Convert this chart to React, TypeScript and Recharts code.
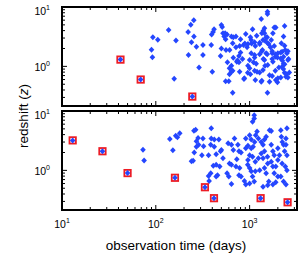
import { ReferenceArea, Scatter, ScatterChart, XAxis, YAxis } from "recharts";

// observation time (days), redshift z
const topPoints: [number, number][] = [
  [93, 3.1], [105, 2.8], [90, 1.9], [92, 1.43], [137, 4.1], [164, 2.74], [157, 0.62],
  [254, 6.0], [236, 5.0], [221, 3.8], [255, 3.2], [240, 2.55], [271, 2.14], [223, 1.55], [289, 0.96],
  [318, 2.3], [318, 1.55], [394, 3.45], [408, 3.8], [418, 4.2], [390, 2.29], [400, 0.81],
  [500, 4.97], [510, 4.6], [520, 3.6], [535, 3.2], [548, 3.6], [555, 2.85], [490, 1.5], [500, 2.0],
  [575, 3.45], [640, 3.2], [670, 3.1], [715, 3.2], [660, 2.45], [560, 1.88], [612, 1.88], [670, 1.4],
  [580, 1.17], [610, 0.93], [640, 0.81], [600, 0.56], [660, 0.36], [800, 2.85], [910, 3.5], [783, 2.2],
  [770, 1.5], [730, 1.2], [783, 0.81], [880, 0.63], [860, 2.3], [960, 2.37], [1040, 1.66], [1000, 1.28],
  [1000, 0.93], [955, 0.78], [1040, 2.78], [1075, 4.2], [1150, 2.2], [1130, 1.55], [1175, 1.11],
  [1200, 0.81], [1150, 0.59], [1330, 6.3], [1550, 8.3], [1550, 7.6], [1440, 3.6], [1390, 2.78],
  [1280, 2.5], [1440, 4.4], [1500, 3.1], [1560, 2.45], [1370, 1.88], [1500, 1.66], [1440, 1.28],
  [1560, 1.05], [1390, 0.87], [1330, 0.55], [1550, 0.36], [1630, 0.55], [1830, 4.5], [1900, 4.5],
  [1770, 3.6], [1700, 2.78], [1830, 2.2], [1740, 1.66], [1880, 1.45], [1770, 1.2], [2000, 1.66],
  [1630, 0.71], [2000, 0.63], [1900, 0.59], [2180, 2.45], [2300, 3.2], [2360, 4.8], [2220, 1.76],
  [2150, 1.36], [2300, 1.45], [2400, 1.88], [2220, 0.99], [2150, 0.65], [2360, 0.78], [2440, 0.67],
  [2500, 1.66], [2560, 1.28], [2300, 1.11],
  [890, 2.43], [1050, 2.43], [1130, 2.54], [1190, 3.28], [1350, 3.6], [1400, 3.98], [1460, 2.7],
  [1540, 3.08], [1600, 2.37], [1670, 2.1], [1350, 1.8], [1280, 1.6], [1130, 1.41], [1100, 1.17],
  [1400, 1.33], [1540, 1.6], [1740, 1.8], [1880, 1.6], [1980, 1.41], [2150, 1.72], [2230, 1.25],
  [2360, 1.09], [2290, 0.9], [2470, 0.74], [1880, 0.84], [1740, 0.69], [1350, 0.57], [1980, 0.54],
  [960, 1.02], [770, 1.17], [660, 0.84], [610, 0.74], [640, 1.02], [555, 0.56], [740, 1.25],
  [800, 1.72], [840, 1.33], [870, 0.61], [1020, 0.74], [1130, 0.84], [1280, 0.79], [940, 2.1],
  [1020, 3.08], [715, 2.1], [1280, 2.37], [1740, 1.33], [1460, 1.02], [2050, 0.96], [2360, 2.22],
  [2560, 1.8], [2600, 1.33], [2650, 0.79], [2560, 0.65],
];
const topFlagged: [number, number][] = [[42, 1.3], [69, 0.6], [245, 0.31]];

const bottomPoints: [number, number][] = [
  [73, 2.22], [75, 1.47], [141, 3.37], [163, 3.83], [170, 3.6], [180, 4.2], [152, 2.18],
  [255, 4.65], [266, 4.85], [271, 3.1], [282, 3.5], [286, 2.7], [257, 2.0], [240, 1.42], [250, 1.45],
  [390, 5.1], [318, 3.45], [323, 2.55], [271, 2.5], [310, 1.8], [365, 1.8], [390, 3.45], [420, 3.3],
  [470, 3.3], [385, 2.7], [420, 2.5], [440, 1.86], [500, 2.2], [490, 2.1], [520, 1.6], [410, 1.2],
  [440, 1.24], [480, 1.16], [385, 0.89], [365, 0.8], [370, 0.66], [455, 0.83], [440, 0.79],
  [575, 0.89], [600, 0.79], [640, 0.59], [610, 1.31], [640, 1.24], [590, 2.85], [640, 2.7],
  [670, 2.2], [690, 3.45], [750, 2.7], [770, 2.1], [810, 2.0], [730, 1.54], [715, 1.16], [783, 1.1],
  [770, 0.83], [810, 0.79], [880, 0.66], [910, 0.58], [910, 3.45], [960, 2.6], [910, 2.35],
  [1000, 3.9], [1040, 3.3], [1075, 6.6], [1120, 8.5], [1120, 7.5], [1160, 3.9], [1130, 3.0],
  [1090, 2.5], [1040, 2.35], [1000, 1.8], [1075, 1.7], [960, 1.5], [955, 1.24], [1000, 1.1],
  [1040, 0.97], [1150, 1.4], [1240, 1.6], [1330, 1.92], [1075, 0.79], [1120, 0.65], [1000, 0.6],
  [1200, 4.5], [1240, 3.45], [1330, 3.0], [1390, 2.7], [1440, 3.3], [1500, 3.7], [1440, 2.1],
  [1550, 1.7], [1390, 1.6], [1560, 1.31], [1440, 1.1], [1500, 0.89], [1390, 0.53], [1560, 0.56],
  [1600, 0.65], [1630, 4.75], [1700, 4.6], [1700, 2.7], [1770, 2.1], [1830, 1.8], [1700, 1.4],
  [1770, 1.16], [1900, 1.16], [1830, 0.89], [2000, 0.79], [1900, 0.63], [1770, 0.58], [2000, 2.35],
  [2080, 1.8], [2000, 1.5], [2150, 4.75], [2180, 3.7], [2230, 3.0], [2300, 2.7], [2440, 3.45],
  [2500, 5.1], [2440, 2.7], [2360, 2.1], [2500, 1.8], [2220, 1.31], [2400, 1.16], [2500, 1.0],
  [2150, 0.79], [2300, 0.65], [2440, 0.58], [1280, 1.0], [1150, 0.97],
];
const bottomFlagged: [number, number][] = [
  [13, 3.2], [27, 2.1], [50, 0.9], [160, 0.75], [334, 0.52], [417, 0.34], [1310, 0.34], [2540, 0.29],
];

const timeTicks = [10, 20, 30, 40, 50, 60, 70, 80, 90, 100, 200, 300, 400, 500, 600, 700, 800, 900, 1000, 2000, 3000];
const zTicks = [0.3, 0.4, 0.5, 0.6, 0.7, 0.8, 0.9, 1, 2, 3, 4, 5, 6, 7, 8, 9, 10];

const T_MIN = 10;
const T_MAX = 3200;
const Z_MIN = 0.215;
const Z_MAX = 10;
const PW = 235; // plot width
const PH = 99; // plot height
const FONT = "'Liberation Sans', Arial, sans-serif";
const BLUE = "#2446ff";
const RED = "#ee1c24";

const toRows = (pts: [number, number][]) => pts.map(([t, z]) => ({ t, z }));

const isMajor = (v: number) => Math.abs(Math.log10(v) - Math.round(Math.log10(v))) < 1e-6;

const Pow = ({ x, y, v, anchor }: { x: number; y: number; v: number; anchor: "middle" | "end" }) => (
  <text x={x} y={y} textAnchor={anchor} fontSize={10.5} fontFamily={FONT} fill="#000">
    10
    <tspan dy={-5} fontSize={7}>
      {Math.round(Math.log10(v))}
    </tspan>
  </text>
);

const xTick = (labels: boolean) => (props: any) => {
  const { x, y, payload } = props;
  const major = isMajor(payload.value);
  const len = major ? 5 : 3;
  return (
    <g>
      <line x1={x} y1={y} x2={x} y2={y - len} stroke="#000" />
      <line x1={x} y1={y - PH} x2={x} y2={y - PH + len} stroke="#000" />
      {labels && major && <Pow x={x} y={y + 18} v={payload.value} anchor="middle" />}
    </g>
  );
};

const yTick = (props: any) => {
  const { x, y, payload } = props;
  const major = isMajor(payload.value);
  const len = major ? 5 : 3;
  const shift = payload.value === Z_MAX ? 3 : 0;
  return (
    <g>
      <line x1={x} y1={y} x2={x + len} y2={y} stroke="#000" />
      <line x1={x + PW} y1={y} x2={x + PW - len} y2={y} stroke="#000" />
      {major && <Pow x={x - 12} y={y + 4.5 + shift} v={payload.value} anchor="end" />}
    </g>
  );
};

const Dot = (p: any) => (
  <polygon
    points={`${p.cx},${p.cy - 3} ${p.cx + 2.8},${p.cy} ${p.cx},${p.cy + 3} ${p.cx - 2.8},${p.cy}`}
    fill={BLUE}
  />
);

const Flagged = (p: any) => (
  <g>
    <rect x={p.cx - 3.2} y={p.cy - 3.2} width={6.4} height={6.4} fill="#fff" stroke={RED} strokeWidth={1.8} />
    <Dot cx={p.cx} cy={p.cy} />
  </g>
);

function Panel({ top, points, flagged, labels }: { top: number; points: [number, number][]; flagged: [number, number][]; labels: boolean }) {
  return (
    <div style={{ position: "absolute", left: 0, top: 0 }}>
      <ScatterChart width={308} height={254} margin={{ top, right: 11, bottom: 0, left: 0 }}>
        <XAxis
          dataKey="t"
          type="number"
          scale="log"
          domain={[T_MIN, T_MAX]}
          allowDataOverflow
          ticks={timeTicks}
          interval={0}
          height={254 - top - PH}
          axisLine={false}
          tickLine={false}
          tickSize={0}
          tickMargin={0}
          tick={xTick(labels)}
        />
        <YAxis
          dataKey="z"
          type="number"
          scale="log"
          domain={[Z_MIN, Z_MAX]}
          allowDataOverflow
          ticks={zTicks}
          interval={0}
          width={62}
          axisLine={false}
          tickLine={false}
          tickSize={0}
          tickMargin={0}
          tick={yTick}
        />
        <ReferenceArea x1={T_MIN} x2={T_MAX} y1={Z_MIN} y2={Z_MAX} fill="none" stroke="#000" strokeWidth={2} />
        <Scatter data={toRows(points)} shape={Dot} isAnimationActive={false} />
        <Scatter data={toRows(flagged)} shape={Flagged} isAnimationActive={false} />
      </ScatterChart>
    </div>
  );
}

export default function App() {
  return (
    <div style={{ position: "absolute", left: 0, top: 0, width: 308, height: 254, background: "#fff" }}>
      <Panel top={7} points={topPoints} flagged={topFlagged} labels={false} />
      <Panel top={111} points={bottomPoints} flagged={bottomFlagged} labels />
      <svg width={308} height={254} style={{ position: "absolute", left: 0, top: 0, pointerEvents: "none" }}>
        <text transform="translate(28,116) rotate(-90)" textAnchor="middle" fontSize={13.5} fontFamily={FONT} fill="#000">
          redshift (<tspan fontStyle="italic">z</tspan>)
        </text>
        <text x={176} y={250} textAnchor="middle" fontSize={13.5} fontFamily={FONT} fill="#000">
          observation time (days)
        </text>
      </svg>
    </div>
  );
}
